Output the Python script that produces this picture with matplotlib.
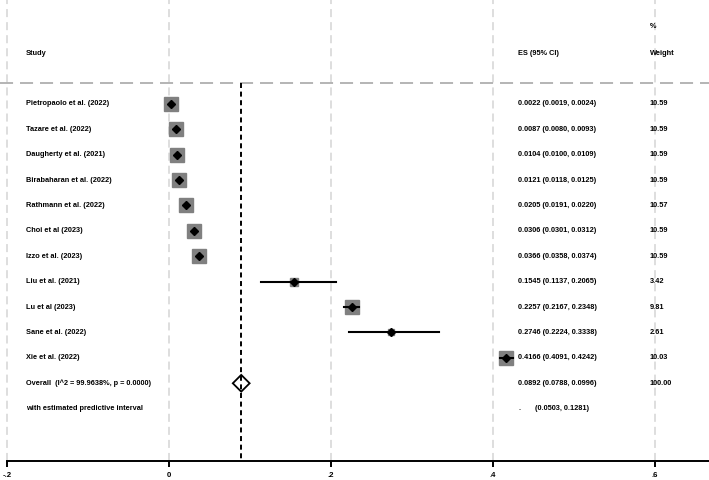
import numpy as np
import matplotlib
matplotlib.use("Agg")
import matplotlib.pyplot as plt
from matplotlib.patches import Polygon

plt.rcParams['font.family'] = ['Liberation Sans', 'DejaVu Sans']
plt.rcParams['lines.scale_dashes'] = False

studies = ["Pietropaolo et al. (2022)", "Tazare et al. (2022)", "Daugherty et al. (2021)",
           "Birabaharan et al. (2022)", "Rathmann et al. (2022)", "Choi et al (2023)",
           "Izzo et al. (2023)", "Liu et al. (2021)", "Lu et al (2023)",
           "Sane et al. (2022)", "Xie et al. (2022)"]
es = [0.0022, 0.0087, 0.0104, 0.0121, 0.0205, 0.0306, 0.0366, 0.1545, 0.2257, 0.2746, 0.4166]
lo = [0.0019, 0.0080, 0.0100, 0.0118, 0.0191, 0.0301, 0.0358, 0.1137, 0.2167, 0.2224, 0.4091]
hi = [0.0024, 0.0093, 0.0109, 0.0125, 0.0220, 0.0312, 0.0374, 0.2065, 0.2348, 0.3338, 0.4242]
weights = [10.59, 10.59, 10.59, 10.59, 10.57, 10.59, 10.59, 3.42, 9.81, 2.61, 10.03]

overall_label = "Overall  (I^2 = 99.9638%, p = 0.0000)"
overall_es, overall_lo, overall_hi = 0.0892, 0.0788, 0.0996
pred_lo, pred_hi = 0.0503, 0.1281

xticks = [-0.2, 0, 0.2, 0.4, 0.6]
xticklabels = ["-.2", "0", ".2", ".4", ".6"]

fs = 5.3
fig = plt.figure(figsize=(7.09, 4.80), dpi=100)
ax = fig.add_axes([0, 19 / 480, 1, 461 / 480])
ax.set_xlim(-0.2086, 0.6667)
ax.set_ylim(14.06, -4.09)

for s in ["top", "left", "right"]:
    ax.spines[s].set_visible(False)
ax.spines["bottom"].set_linewidth(1.4)
ax.spines["bottom"].set_bounds(-0.2, 0.6667)
ax.set_yticks([])
ax.set_xticks(xticks)
ax.set_xticklabels(xticklabels, fontsize=5.6, fontweight="bold")
ax.tick_params(axis="x", length=4, width=1.4, pad=4)

# vertical gridlines
for t in xticks:
    ax.plot([t, t], [14.06, -4.09], color="#d8d8d8", lw=1.2, ls=(0, (5.8, 3.6)), zorder=0)

# header separator
ax.plot([-0.2086, 0.6667], [-0.83, -0.83], color="#a8a8a8", lw=1.2, ls=(0, (9.4, 5)), zorder=1)

# null line at overall estimate
ax.plot([overall_es, overall_es], [-0.83, 14.06], color="black", lw=1.4, ls=(0, (3.6, 2.6)), zorder=5)

x_study = -0.1765
x_es = 0.4309
x_w = 0.5938
ax.text(x_study, -1.97, "Study", fontsize=fs, fontweight="bold", va="center")
ax.text(x_es, -1.97, "ES (95% CI)", fontsize=fs, fontweight="bold", va="center")
ax.text(x_w, -3.03, "%", fontsize=fs, fontweight="bold", va="center")
ax.text(x_w, -1.97, "Weight", fontsize=fs, fontweight="bold", va="center")

for i, name in enumerate(studies):
    ax.plot([lo[i], hi[i]], [i, i], color="black", lw=1.5, zorder=3)
    ms = 10.08 * np.sqrt(weights[i] / 10.59)
    ax.plot(es[i], i, marker="s", ms=ms, color="#808080", mec="#808080", zorder=2)
    ax.plot(es[i], i, marker="D", ms=4.0, color="black", zorder=4)
    ax.text(x_study, i, name, fontsize=fs, fontweight="bold", va="center")
    ax.text(x_es, i, f"{es[i]:.4f} ({lo[i]:.4f}, {hi[i]:.4f})", fontsize=fs, fontweight="bold", va="center")
    ax.text(x_w, i, f"{weights[i]:.2f}", fontsize=fs, fontweight="bold", va="center")

yo = len(studies)
h = 0.33
dia = Polygon([[overall_lo, yo], [overall_es, yo - h], [overall_hi, yo], [overall_es, yo + h]],
              closed=True, facecolor="white", edgecolor="black", lw=1.3, zorder=4)
ax.add_patch(dia)
ax.text(x_study, yo, overall_label, fontsize=fs, fontweight="bold", va="center")
ax.text(x_es, yo, f"{overall_es:.4f} ({overall_lo:.4f}, {overall_hi:.4f})", fontsize=fs, fontweight="bold", va="center")
ax.text(x_w, yo, "100.00", fontsize=fs, fontweight="bold", va="center")

yp = yo + 1
ax.text(x_study, yp, "with estimated predictive interval", fontsize=fs, fontweight="bold", va="center")
ax.text(x_es, yp, ".", fontsize=fs, fontweight="bold", va="center")
ax.text(x_es + 0.021, yp, f"({pred_lo:.4f}, {pred_hi:.4f})", fontsize=fs, fontweight="bold", va="center")

fig.savefig("out.png", dpi=100)
